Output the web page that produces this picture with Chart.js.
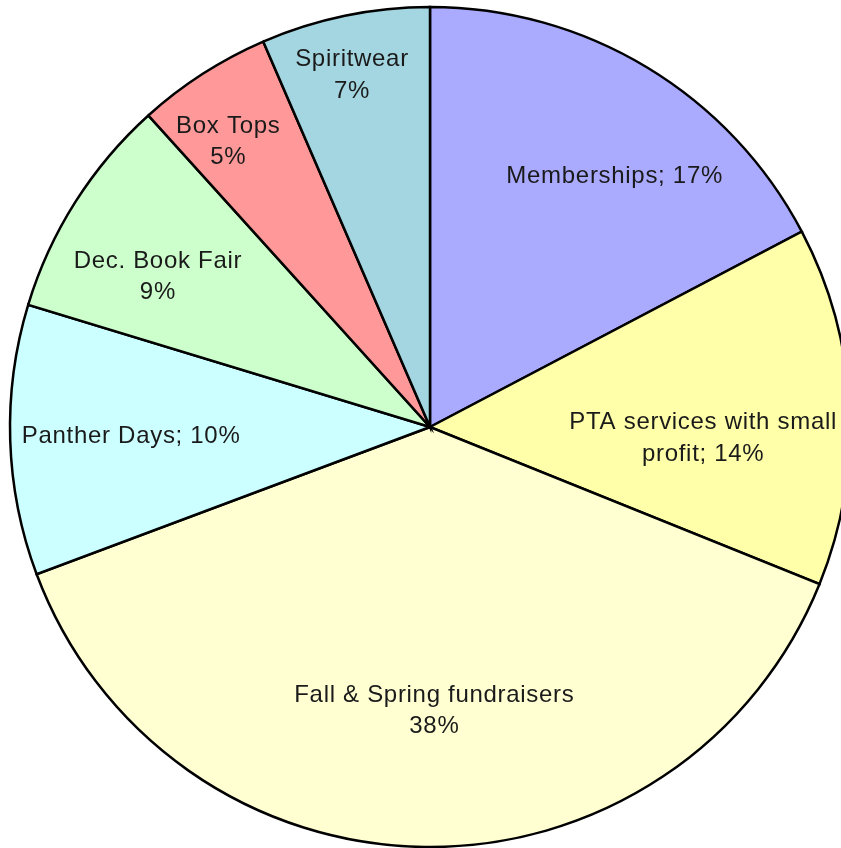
<!DOCTYPE html>
<html>
<head>
<meta charset="utf-8">
<script src="https://cdn.jsdelivr.net/npm/chart.js@4/dist/chart.umd.min.js"></script>
<style>
  html, body { margin: 0; padding: 0; background: #ffffff; overflow: hidden; }
  #wrap { position: relative; width: 860px; height: 848px; }
</style>
</head>
<body>
<div id="wrap"><canvas id="c"></canvas></div>
<script>
// Data
const categories = ['Memberships', 'PTA services with small profit', 'Fall & Spring fundraisers', 'Panther Days', 'Dec. Book Fair', 'Box Tops', 'Spiritwear'];
const values = [17.3, 13.8, 38.2, 10.4, 8.6, 5.2, 6.5];
const percentLabels = ['17%', '14%', '38%', '10%', '9%', '5%', '7%'];
const labelLines = [
  ['Memberships; 17%'],
  ['PTA services with small', 'profit; 14%'],
  ['Fall & Spring fundraisers', '38%'],
  ['Panther Days; 10%'],
  ['Dec. Book Fair', '9%'],
  ['Box Tops', '5%'],
  ['Spiritwear', '7%']
];

const colors = ['#aaaaff', '#ffffaa', '#ffffd2', '#ccffff', '#ccffcc', '#ff9999', '#a3d6e0'];

const labelPlacement = {
  radiusFrac: [0.742, 0.651, 0.676, 0.712, 0.740, 0.832, 0.858],
  angleShiftDeg: [5.2, 5.3, -1.6, 0, -3.5, -2.5, -0.8],
  font: '24px "Liberation Sans", Arial, sans-serif',
  letterSpacing: '0.7px',
  lineHeight: 31.5,
  color: '#1a1a1a'
};

const sliceLabelPlugin = {
  id: 'sliceLabels',
  afterDatasetsDraw(chart) {
    const ctx = chart.ctx;
    const meta = chart.getDatasetMeta(0);
    ctx.save();
    ctx.font = labelPlacement.font;
    if ('letterSpacing' in ctx) ctx.letterSpacing = labelPlacement.letterSpacing;
    ctx.fillStyle = labelPlacement.color;
    ctx.textAlign = 'center';
    ctx.textBaseline = 'middle';
    meta.data.forEach((arc, i) => {
      const p = arc.getProps(['x', 'y', 'startAngle', 'endAngle', 'outerRadius'], true);
      const mid = (p.startAngle + p.endAngle) / 2 + labelPlacement.angleShiftDeg[i] * Math.PI / 180;
      const r = p.outerRadius * labelPlacement.radiusFrac[i];
      const cx = p.x + Math.cos(mid) * r;
      const cy = p.y + Math.sin(mid) * r;
      const lines = labelLines[i];
      const n = lines.length;
      lines.forEach((t, k) => {
        const y = cy + (k - (n - 1) / 2) * labelPlacement.lineHeight;
        ctx.fillText(t, cx, y);
      });
    });
    ctx.restore();
  }
};

new Chart(document.getElementById('c'), {
  type: 'pie',
  data: {
    labels: categories,
    datasets: [{
      data: values,
      backgroundColor: colors,
      borderColor: '#000000',
      borderWidth: 2.5,
      borderJoinStyle: 'miter'
    }]
  },
  options: {
    responsive: true,
    maintainAspectRatio: false,
    animation: false,
    radius: 420,
    layout: { padding: { top: 6, bottom: 0, left: 0, right: 0 } },
    plugins: {
      legend: { display: false },
      tooltip: { enabled: false }
    }
  },
  plugins: [sliceLabelPlugin]
});
</script>
</body>
</html>
